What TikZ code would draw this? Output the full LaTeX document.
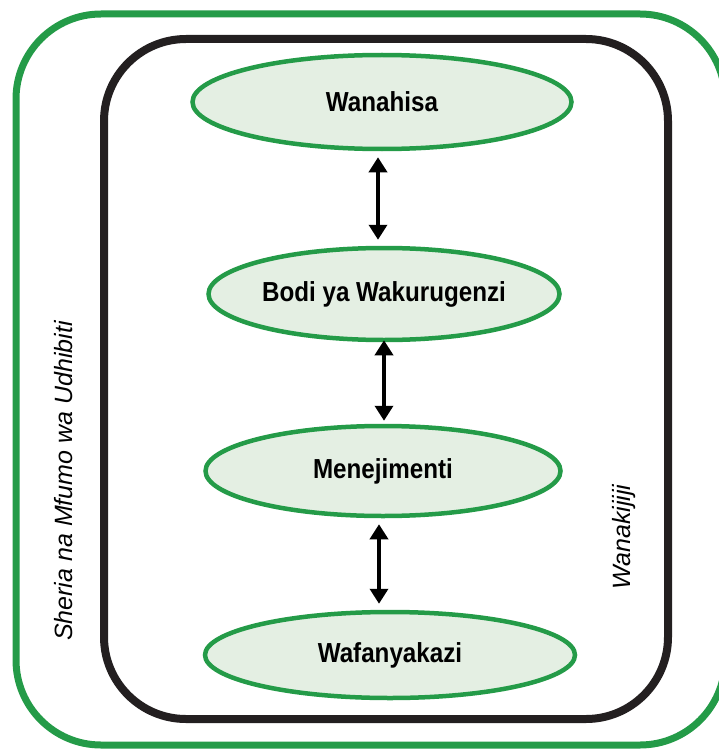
\documentclass[tikz,border=0pt]{standalone}
\usepackage{fontspec}
\setmainfont{Liberation Sans}
\newfontfamily\levelfont{Liberation Sans}[FakeStretch=0.88]
\usetikzlibrary{shapes.geometric,arrows.meta,positioning}

\definecolor{lawgreen}{RGB}{36,155,72}
\definecolor{palegreen}{RGB}{228,239,227}
\definecolor{inkblack}{RGB}{35,31,32}

\tikzset{
  level/.style={ellipse, draw=lawgreen, fill=palegreen, line width=4.5pt, inner sep=0pt,
    font=\levelfont\bfseries\fontsize{27.5}{32}\selectfont},
  sidetext/.style={rotate=90, font=\itshape\fontsize{25}{29}\selectfont},
  twoway/.style={{Triangle[width=18pt,length=15pt]}-{Triangle[width=18pt,length=15pt]},
    line width=3.5pt, shorten <=6pt, shorten >=6pt}
}

\begin{document}
\begin{tikzpicture}[x=1pt,y=-1pt]

\useasboundingbox (0,0) rectangle (718,749);

% outer frame and inner frame
\draw[lawgreen, line width=7pt, rounded corners=85pt] (16,14) rectangle (725,745);
\draw[inkblack, line width=8pt, rounded corners=82pt] (104,39) rectangle (668,719);

% the four levels
\node[level, minimum width=379pt, minimum height=94pt] (owners) at (382,102) {Wanahisa};
\node[level, minimum width=351pt, minimum height=92pt] (board) at (384,294) {Bodi ya Wakurugenzi};
\node[level, minimum width=355pt, minimum height=90pt] (mgmt) at (383,471) {Menejimenti};
\node[level, minimum width=370pt, minimum height=86pt] (staff) at (390,655) {Wafanyakazi};

\draw[twoway] ([xshift=-4pt]owners.south) -- ([xshift=-4pt]owners.south |- board.north);
\draw[twoway, shorten <=-2pt, shorten >=3pt] (board.south) -- (board.south |- mgmt.north);
\draw[twoway] ([xshift=-4pt]mgmt.south) -- ([xshift=-4pt]mgmt.south |- staff.north);

% side labels
\node[sidetext] (law) at (64,481) {Sheria na Mfumo wa Udhibiti};
\node[sidetext] (village) at (624,537) {Wanakijiji};

\end{tikzpicture}
\end{document}
